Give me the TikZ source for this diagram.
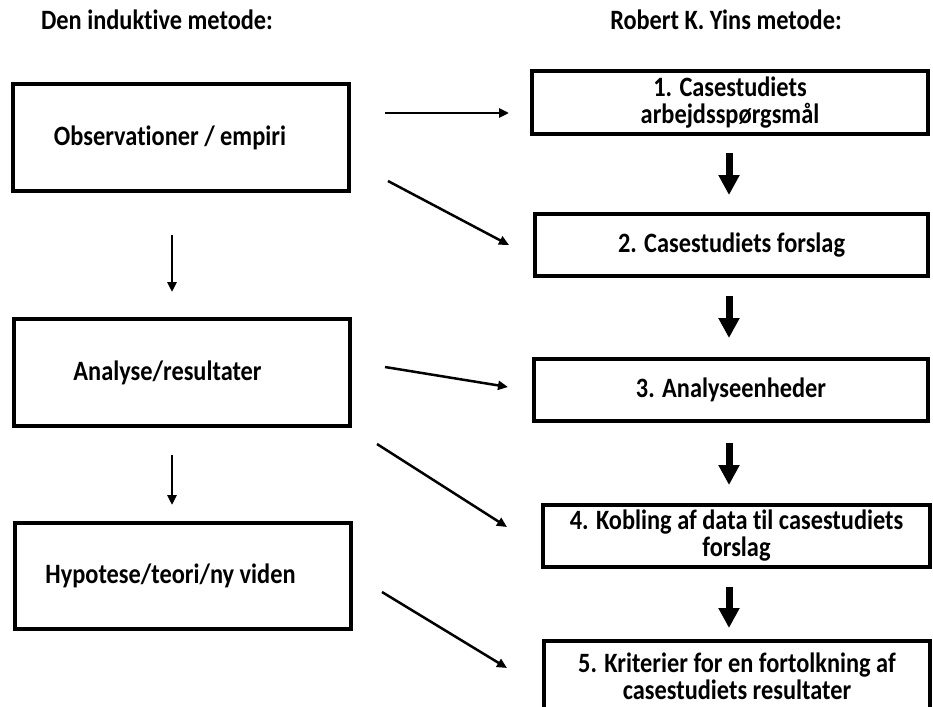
\documentclass[tikz,border=0pt]{standalone}
\usepackage{fontspec}
\setmainfont{Carlito}[FakeStretch=0.87, Ligatures=NoCommon]
\usetikzlibrary{arrows.meta}
\begin{document}
\begin{tikzpicture}[x=1pt,y=-1pt,
  every node/.style={font=\bfseries\fontsize{28}{27}\selectfont},
  lbox/.style={draw, line width=4pt, minimum width=336pt, minimum height=107pt, inner sep=0pt, outer sep=0pt},
  rbox/.style={draw, line width=4.5pt, minimum height=62pt, inner sep=0pt, outer sep=0pt, align=center},
  thinarrow/.style={line width=2.5pt, -{Triangle[width=9pt,length=10pt]}},
  fatarrow/.style={line width=7pt, -{Triangle[width=20pt,length=20pt]}},
  head/.style={anchor=base}]
\useasboundingbox (0,0) rectangle (933,706);
\clip (0,0) rectangle (933,706);

\node[head] (h1) at (157,30) {Den induktive metode:};
\node[head] (h2) at (726,30) {Robert K. Yins metode:};

\node[lbox] (l1) at (181,137.5) {\hspace*{-22pt}Observationer / empiri};
\node[lbox] (l2) at (182,372.5) {\hspace*{-29pt}Analyse/resultater};
\node[lbox, minimum height=106pt] (l3) at (183,576) {\hspace*{-25pt}Hypotese/teori/ny viden};

\node[rbox, minimum width=396pt, minimum height=63pt] (r1) at (730,102.5) {1. Casestudiets\\arbejdsspørgsmål};
\node[rbox, minimum width=393pt] (r2) at (731.5,245) {2. Casestudiets forslag};
\node[rbox, minimum width=394pt] (r3) at (731,390) {3. Analyseenheder};
\node[rbox, minimum width=387pt] (r4) at (736.5,536) {4. Kobling af data til casestudiets\\forslag};
\node[rbox, minimum width=386pt, minimum height=70pt] (r5) at (737,676) {5. Kriterier for en fortolkning af\\casestudiets resultater};

\coordinate (a1s) at (385,113); \coordinate (a1e) at (509,113);
\coordinate (a2s) at (388,181); \coordinate (a2e) at (509,245);
\coordinate (a3s) at (385,367); \coordinate (a3e) at (508,387);
\coordinate (a4s) at (377,444); \coordinate (a4e) at (507,527);
\coordinate (a5s) at (382,592); \coordinate (a5e) at (507,668);
\coordinate (d1s) at (172,235); \coordinate (d1e) at (172,292);
\coordinate (d2s) at (172,455); \coordinate (d2e) at (172,505);
\coordinate (ax) at (729,0);

\draw[thinarrow] (a1s) -- (a1e);
\draw[thinarrow] (a2s) -- (a2e);
\draw[thinarrow] (a3s) -- (a3e);
\draw[thinarrow] (a4s) -- (a4e);
\draw[thinarrow] (a5s) -- (a5e);
\draw[thinarrow] (d1s) -- (d1e);
\draw[thinarrow] (d2s) -- (d2e);

\draw[fatarrow, shorten <=19pt, shorten >=19pt] (r1.south -| ax) -- (r2.north -| ax);
\draw[fatarrow, shorten <=20pt, shorten >=21pt] (r2.south -| ax) -- (r3.north -| ax);
\draw[fatarrow, shorten <=22pt, shorten >=20pt] (r3.south -| ax) -- (r4.north -| ax);
\draw[fatarrow, shorten <=20pt, shorten >=13pt] (r4.south -| ax) -- (r5.north -| ax);
\end{tikzpicture}
\end{document}
